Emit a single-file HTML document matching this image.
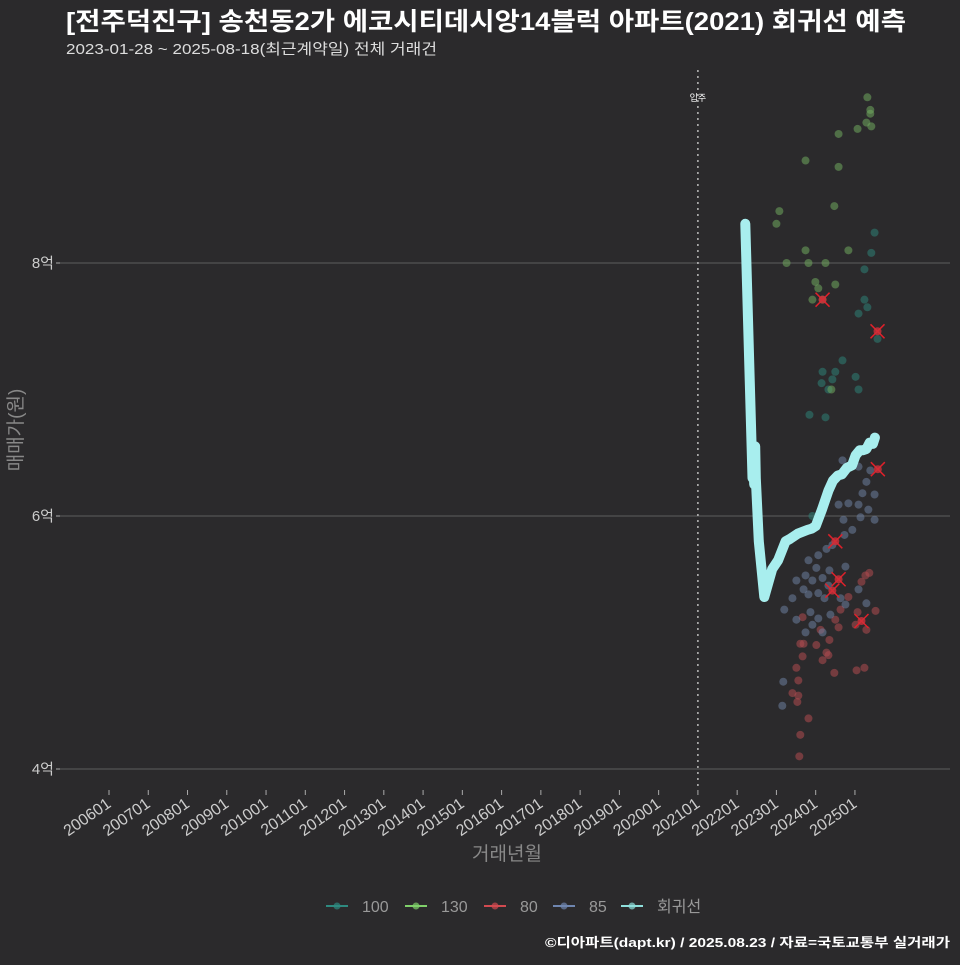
<!DOCTYPE html>
<html><head><meta charset="utf-8">
<style>
html,body{margin:0;padding:0;background:#2b2a2c;}
body{width:960px;height:960px;overflow:hidden;font-family:"Liberation Sans","Noto Sans CJK KR",sans-serif;}
svg text{font-family:"Liberation Sans","Noto Sans CJK KR",sans-serif;}
</style></head>
<body>
<svg id="chart" width="960" height="960" viewBox="0 0 960 960" xmlns="http://www.w3.org/2000/svg">
<rect width="960" height="960" fill="#2b2a2c"/>
<text x="66" y="30" fill="#ffffff" font-size="25" font-weight="bold" textLength="840" lengthAdjust="spacingAndGlyphs">[전주덕진구] 송천동2가 에코시티데시앙14블럭 아파트(2021) 회귀선 예측</text>
<text x="66" y="54" fill="#dddddd" font-size="15" textLength="371" lengthAdjust="spacingAndGlyphs">2023-01-28 ~ 2025-08-18(최근계약일) 전체 거래건</text>
<text transform="translate(22,430) rotate(-90)" text-anchor="middle" fill="#888888" font-size="19">매매가(원)</text>
<text x="507" y="860" text-anchor="middle" fill="#888888" font-size="19">거래년월</text>
<g id="grid"></g><g id="axes"></g><g id="pts"></g><g id="reg"></g><g id="marks"></g>
<g id="legend"></g>
<text x="545" y="947" fill="#ffffff" font-size="13" font-weight="bold" textLength="405" lengthAdjust="spacingAndGlyphs">©디아파트(dapt.kr) / 2025.08.23 / 자료=국토교통부 실거래가</text>
</svg>
<script>
// months after 2023-01 and price in 억
const yTicks=[4,6,8];
const xTickLabels=["200601","200701","200801","200901","201001","201101","201201","201301","201401","201501","201601","201701","201801","201901","202001","202101","202201","202301","202401","202501"];
const moveInYear=2021;
const g130M=[27.8,28.7,28.7,27.5,29.0,24.8,19.0,8.9,19.0,0.9,0,17.7,8.9,22.0,3.1,9.8,15.0,11.9,12.8,18.0,11.0,14.1,16.8];
const g130V=[9.31,9.21,9.18,9.11,9.08,9.06,9.02,8.81,8.76,8.41,8.31,8.45,8.10,8.10,8.00,8.00,8.00,7.85,7.80,7.83,7.71,7.71,7.00];
const g100M=[30.0,29.0,26.9,26.9,27.8,25.1,30.9,20.2,18.0,14.1,17.1,24.2,13.8,15.9,25.1,10.1,15.0,11.0];
const g100V=[8.24,8.08,7.95,7.71,7.65,7.60,7.40,7.23,7.14,7.14,7.08,7.10,7.05,7.00,7.00,6.80,6.78,6.00];
const g80M=[27.2,28.4,26.0,19.6,22,18,24.8,30.3,27.5,24.2,26.9,24.5,16.2,15.3,14.1,15.9,17.7,13.5,12.2,8,7.3,8,6.1,6.7,4.9,6.7,6.4,9.8,7.3,7.0,8.3,19];
const g80V=[5.53,5.55,5.48,5.26,5.36,5.18,5.24,5.25,5.10,5.14,4.80,4.78,5.02,4.92,4.86,4.90,4.76,5.10,4.98,5.20,4.99,4.89,4.80,4.70,4.60,4.58,4.53,4.40,4.27,4.10,4.99,5.12];
const g85M=[20.2,25.1,28.7,27.5,26.3,30,28.1,30,25.1,22,19,20.5,25.7,23.2,20.8,17.1,15.3,12.8,9.8,12.2,16.2,21.1,8.9,11,14.1,15.9,6.1,8.3,9.8,12.8,14.7,19.6,21.1,4.9,10.4,12.8,11,14.1,16.5,8.9,6.1,2.4,2.1,1.8,25.1,27.5];
const g85V=[6.44,6.39,6.36,6.27,6.18,6.17,6.05,5.97,6.09,6.10,6.09,5.97,5.99,5.89,5.85,5.77,5.74,5.69,5.65,5.59,5.57,5.60,5.53,5.49,5.51,5.45,5.49,5.42,5.38,5.39,5.35,5.35,5.30,5.35,5.24,5.19,5.14,5.08,5.22,5.08,5.18,5.26,4.69,4.50,5.42,5.31];
const hlM=[14.1,30.9,31.0,18.0,19.0,17.1,26.0];
const hlV=[7.71,7.46,6.37,5.80,5.50,5.41,5.17];
const regM=[-9.5,-7.3,-7.2,-6.8,-6.5,-6.3,-5.4,-3.7,-1.3,0.5,2.8,4.2,6.5,9.5,10.8,12.0,13.9,15.9,17.3,18.8,20.0,21.5,23.1,24.2,25.5,26.5,27.5,28.5,29.5,30.1];
const regV=[8.31,6.30,6.50,6.25,6.55,6.30,5.80,5.36,5.58,5.65,5.80,5.82,5.86,5.89,5.90,5.92,6.05,6.20,6.28,6.32,6.33,6.38,6.40,6.48,6.52,6.52,6.53,6.58,6.57,6.62];

const NS="http://www.w3.org/2000/svg";
const X0=109, PPY=39.26;
function xYear(y){return X0+(y-2006)*PPY;}
function xM(m){return xYear(2023+m/12);}
function yV(v){return 769-(v-4)*126.5;}
function mk(tag,attrs,parent){const e=document.createElementNS(NS,tag);for(const k in attrs)e.setAttribute(k,attrs[k]);document.getElementById(parent).appendChild(e);return e;}

yTicks.forEach(v=>{
  const l=mk('line',{x1:60,x2:950,y1:yV(v),y2:yV(v),stroke:'#5e5e5e','stroke-width':1},'grid');
  
  
  const t=mk('line',{x1:56,x2:60,y1:yV(v),y2:yV(v),stroke:'#aaa'},'axes');
  
  
  const tx=mk('text',{x:54,y:yV(v)+5,'text-anchor':'end',fill:'#cccccc','font-size':15},'axes');
  tx.textContent=v+'억';
  
  
});
xTickLabels.forEach(s=>{
  const yr=+s.slice(0,4)+(+s.slice(4)-1)/12;
  const x=xYear(yr);
  const t=mk('line',{x1:x,x2:x,y1:790,y2:795,stroke:'#aaa'},'axes');
  
  
  const tx=mk('text',{x:x+3,y:806,'text-anchor':'end',fill:'#cccccc','font-size':16,transform:`rotate(-35 ${x+3} 806)`},'axes');
  tx.textContent=s;
  
  
});
const mx=xYear(moveInYear);
const ml=mk('line',{x1:mx,x2:mx,y1:70,y2:790,stroke:'#bbbbbb','stroke-width':1.5,'stroke-dasharray':'2,4'},'grid');


const mt=mk('text',{x:mx,y:101,'text-anchor':'middle',fill:'#ffffff','font-size':9},'grid');
mt.textContent='입주';



function series(M,V,col,name){
  M.forEach((m,i)=>{
    const c=mk('circle',{cx:xM(m),cy:yV(V[i]),r:4,fill:col,'fill-opacity':0.55},'pts');
    
    
  });
}
series(g100M,g100V,'#2e8076','point-100');
series(g130M,g130V,'#6fa85e','point-130');
series(g80M,g80V,'#b14a50','point-80');
series(g85M,g85V,'#6b7d9e','point-85');
hlM.forEach((m,i)=>{
  const x=xM(m),y=yV(hlV[i]);
  const p=mk('path',{d:`M${x-7},${y-7}L${x+7},${y+7}M${x-7},${y+7}L${x+7},${y-7}`,stroke:'#e0202a','stroke-width':1.5},'marks');
  
  
  const c=mk('circle',{cx:x,cy:y,r:4,fill:'#d0303a','fill-opacity':0.8},'marks');
  
  
});
const d=regM.map((m,i)=>(i?'L':'M')+xM(m).toFixed(1)+','+yV(regV[i]).toFixed(1)).join('');
const rp=mk('path',{d:d,fill:'none',stroke:'#a8eeee','stroke-width':10,'stroke-linejoin':'round','stroke-linecap':'round'},'reg');



const legItems=[['100','#2e8a80',326],['130','#7fd06a',405],['80','#d24a50',484],['85','#6f86b0',553],['회귀선','#8fe0dc',621]];
legItems.forEach(it=>{
  const l=mk('line',{x1:it[2],x2:it[2]+22,y1:906,y2:906,stroke:it[1],'stroke-width':2},'legend');
  
  
  const c=mk('circle',{cx:it[2]+11,cy:906,r:3.5,fill:it[1],'fill-opacity':0.7},'legend');
  
  
  const t=mk('text',{x:it[2]+36,y:912,fill:'#999999','font-size':16},'legend');
  t.textContent=it[0];
  
  
});
</script>
</body></html>
